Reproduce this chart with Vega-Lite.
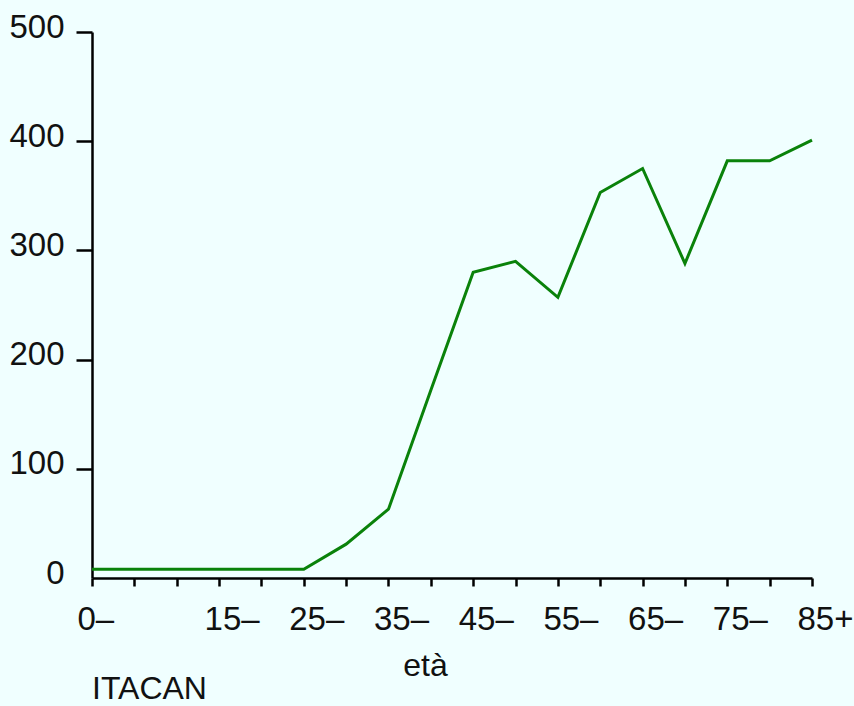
{
  "$schema": "https://vega.github.io/schema/vega-lite/v6.json",
  "autosize": "none",
  "width": 720,
  "height": 546,
  "padding": {"left": 92, "top": 32, "right": 42, "bottom": 128},
  "background": "#f0ffff",
  "config": {
    "view": {"stroke": null},
    "font": "Liberation Sans",
    "axis": {"grid": false, "domainColor": "#000", "domainWidth": 2.5, "tickColor": "#000", "tickWidth": 2.5, "labelFont": "Liberation Sans", "labelFontSize": 33, "labelColor": "#111", "titleFont": "Liberation Sans", "titleFontWeight": "normal", "titleColor": "#111"}
  },
  "title": {"text": "ITACAN", "orient": "bottom", "anchor": "start", "frame": "group", "font": "Liberation Sans", "fontSize": 32, "fontWeight": "normal", "color": "#111", "offset": -7},
  "data": {"values": [
    {"eta": "0–", "tasso": 8},
    {"eta": "5–", "tasso": 8},
    {"eta": "10–", "tasso": 8},
    {"eta": "15–", "tasso": 8},
    {"eta": "20–", "tasso": 8},
    {"eta": "25–", "tasso": 8},
    {"eta": "30–", "tasso": 31},
    {"eta": "35–", "tasso": 63},
    {"eta": "40–", "tasso": 172},
    {"eta": "45–", "tasso": 280},
    {"eta": "50–", "tasso": 290},
    {"eta": "55–", "tasso": 257},
    {"eta": "60–", "tasso": 353},
    {"eta": "65–", "tasso": 375},
    {"eta": "70–", "tasso": 288},
    {"eta": "75–", "tasso": 382},
    {"eta": "80–", "tasso": 382},
    {"eta": "85+", "tasso": 401}
  ]},
  "mark": {"type": "line", "color": "#0a820a", "strokeWidth": 3},
  "encoding": {
    "x": {
      "field": "eta", "type": "ordinal", "sort": null,
      "scale": {"type": "point", "padding": 0},
      "axis": {
        "title": "età", "titleFontSize": 32, "titleAnchor": "start", "titleAlign": "center", "titleX": 333, "titlePadding": 14,
        "labelAngle": 0, "labelAlign": "left", "labelOffset": -15, "labelPadding": 17, "tickSize": 8,
        "labelExpr": "indexof(['0–','15–','25–','35–','45–','55–','65–','75–','85+'], datum.value) >= 0 ? datum.value : ''"
      }
    },
    "y": {
      "field": "tasso", "type": "quantitative",
      "scale": {"domain": [0, 500], "nice": false},
      "axis": {
        "title": null, "values": [0, 100, 200, 300, 400, 500], "tickSize": 16, "labelPadding": 12, "labelOffset": -5,
        "tickColor": {"condition": {"test": "datum.value === 0", "value": "transparent"}, "value": "#000"}
      }
    }
  }
}
